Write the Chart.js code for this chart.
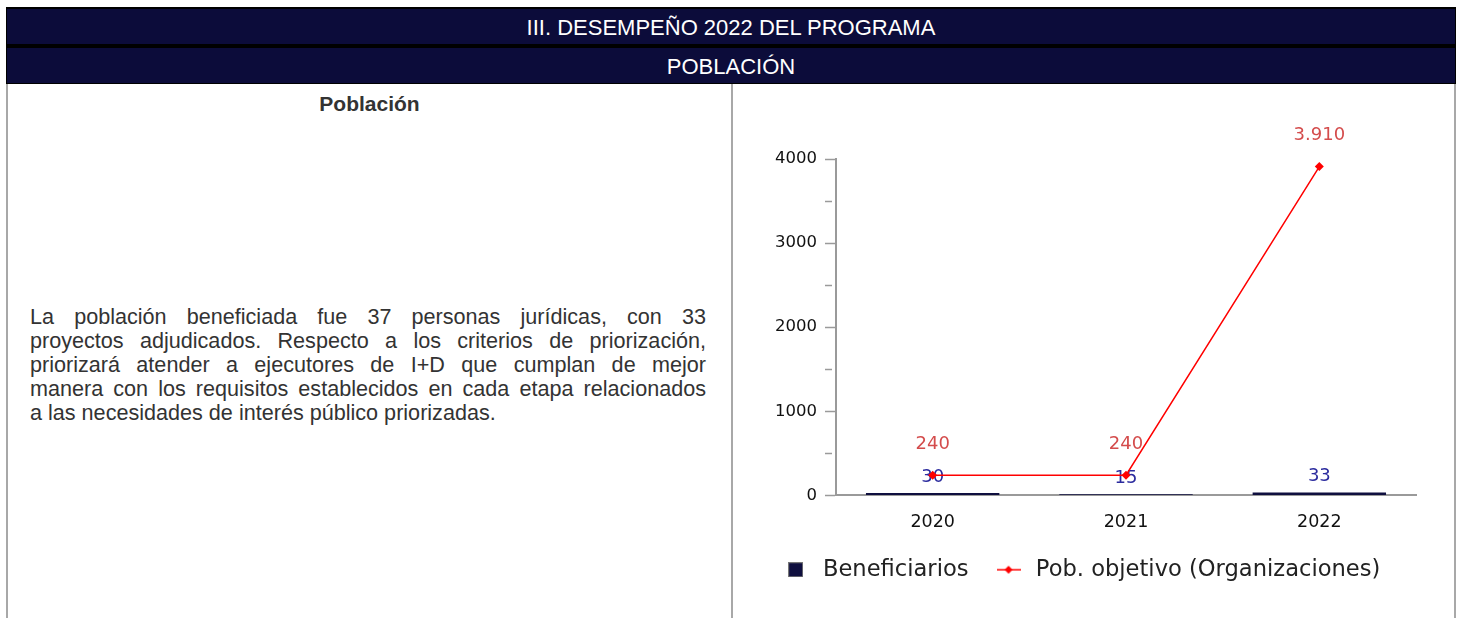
<!DOCTYPE html>
<html>
<head>
<meta charset="utf-8">
<script src="https://cdn.jsdelivr.net/npm/chart.js@4.4.1/dist/chart.umd.min.js"></script>
<style>
  body { margin: 0; background: #fff; width: 1460px; height: 618px; overflow: hidden; position: relative; font-family: "Liberation Sans", Arial, sans-serif; }
  .hdr { position: absolute; left: 6px; width: 1450px; background: #0c0c3a; color: #fff; font-size: 22px; text-align: center; border: 1px solid #000; box-sizing: border-box; }
  #h1 { top: 7px; height: 38px; line-height: 38px; border-top-width: 2px; }
  #h2 { top: 45px; height: 39px; line-height: 37px; border-top-width: 3px; }
  .vline { position: absolute; top: 84px; height: 540px; width: 2px; background: #a8a8a8; }
  #title { position: absolute; left: 8px; width: 723px; top: 92px; text-align: center; font-weight: bold; font-size: 21px; color: #333; }
  #text { position: absolute; left: 30px; width: 676px; top: 305px; font-size: 21.6px; line-height: 24px; color: #333; }
  #text span { display: block; white-space: nowrap; text-align: justify; text-align-last: justify; }
  #text span.last { text-align: left; text-align-last: left; }
  #chartBox { position: absolute; left: 740px; top: 90px; width: 722px; height: 536px; }
</style>
</head>
<body>
<div class="hdr" id="h1">III. DESEMPEÑO 2022 DEL PROGRAMA</div>
<div class="hdr" id="h2">POBLACIÓN</div>
<div class="vline" style="left:6px"></div>
<div class="vline" style="left:731px"></div>
<div class="vline" style="left:1454px"></div>
<div id="title">Población</div>
<div id="text">
<span>La población beneficiada fue 37 personas jurídicas, con 33</span>
<span>proyectos adjudicados. Respecto a los criterios de priorización,</span>
<span>priorizará atender a ejecutores de I+D que cumplan de mejor</span>
<span>manera con los requisitos establecidos en cada etapa relacionados</span>
<span class="last">a las necesidades de interés público priorizadas.</span>
</div>
<div id="chartBox"><canvas id="chartCanvas" width="722" height="536"></canvas></div>
<script>
const years = ["2020", "2021", "2022"];
const beneficiarios = [30, 15, 33];
const pobObjetivo = [240, 240, 3910];
const yTicks = [0, 1000, 2000, 3000, 4000];

const navy = "#0f0f3f";
const red = "#ff0000";

// thousands separator like the original ("3.910")
function fmt(v) {
    return String(v).replace(/\B(?=(\d{3})+(?!\d))/g, ".");
}

// legend markers
function squareIcon() {
    const c = document.createElement("canvas");
    c.width = 15; c.height = 15;
    const g = c.getContext("2d");
    g.fillStyle = "#777";
    g.fillRect(0, 0, 15, 15);
    g.fillStyle = navy;
    g.fillRect(1, 1, 13, 13);
    return c;
}
function lineIcon() {
    const c = document.createElement("canvas");
    c.width = 24; c.height = 12;
    const g = c.getContext("2d");
    g.strokeStyle = red;
    g.lineWidth = 1.5;
    g.beginPath(); g.moveTo(0, 6); g.lineTo(24, 6); g.stroke();
    g.fillStyle = red;
    g.beginPath(); g.moveTo(12, 2); g.lineTo(16, 6); g.lineTo(12, 10); g.lineTo(8, 6); g.closePath(); g.fill();
    return c;
}
const legendIcons = [squareIcon(), lineIcon()];

const valueLabels = {
    id: "valueLabels",
    afterDatasetDraw(chart, args) {
        const ds = chart.data.datasets[args.index];
        const ctx = chart.ctx;
        ctx.save();
        ctx.font = '18px "DejaVu Sans"';
        ctx.fillStyle = ds.labelColor;
        ctx.textAlign = "center";
        ctx.textBaseline = "middle";
        args.meta.data.forEach(function (el, j) {
            ctx.fillText(fmt(ds.data[j]), el.x, el.y - ds.labelOffset);
        });
        ctx.restore();
    }
};

const ctx = document.getElementById("chartCanvas").getContext("2d");

const chart = new Chart(ctx, {
    type: "bar",
    data: {
        labels: years,
        datasets: [{
            label: "Beneficiarios",
            data: beneficiarios,
            backgroundColor: navy,
            categoryPercentage: 1,
            barPercentage: 0.69,
            labelColor: "#2b2b9e",
            labelOffset: 16,
            order: 2
        }, {
            type: "line",
            label: "Pob. objetivo (Organizaciones)",
            data: pobObjetivo,
            borderColor: red,
            borderWidth: 1.5,
            backgroundColor: red,
            pointStyle: "rectRot",
            pointRadius: 4.5,
            pointBorderWidth: 0,
            labelColor: "#d44c4c",
            labelOffset: 31,
            order: 1
        }]
    },
    options: {
        responsive: false,
        animation: false,
        events: [],
        layout: { padding: { left: 4, right: 46, top: 69, bottom: 35 } },
        elements: { line: { tension: 0 } },
        plugins: {
            tooltip: { enabled: false },
            legend: {
                position: "bottom",
                labels: {
                    usePointStyle: true,
                    pointStyleWidth: 32,
                    padding: 24,
                    color: "#222",
                    font: { family: "DejaVu Sans", size: 22.6 },
                    sort: function (a, b) { return a.datasetIndex - b.datasetIndex; },
                    generateLabels: function (chart) {
                        const items = Chart.defaults.plugins.legend.labels.generateLabels(chart);
                        items.forEach(function (it) { it.pointStyle = legendIcons[it.datasetIndex]; });
                        return items;
                    }
                }
            }
        },
        scales: {
            x: {
                offset: true,
                afterFit: function (scale) { scale.height = 39; },
                grid: { display: false, drawTicks: false },
                border: { display: true, color: "#9a9a9a", width: 2 },
                ticks: { color: "#111", padding: 17, font: { family: "DejaVu Sans", size: 17.5 } }
            },
            y: {
                min: 0,
                max: 4000,
                afterFit: function (scale) { scale.width = 92; },
                afterBuildTicks: function (scale) {
                    const t = [];
                    for (let i = 0; i < yTicks.length; i++) {
                        t.push({ value: yTicks[i] });
                        if (i < yTicks.length - 1) t.push({ value: yTicks[i] + 500 });
                    }
                    scale.ticks = t;
                },
                grid: {
                    drawOnChartArea: false,
                    tickLength: 11,
                    color: "#9a9a9a",
                    tickWidth: 1.5,
                    tickBorderDash: function (c) {
                        return yTicks.indexOf(c.tick.value) < 0 ? [7, 100] : [];
                    }
                },
                border: { display: true, color: "#9a9a9a", width: 2 },
                ticks: {
                    color: "#111",
                    padding: 8,
                    font: { family: "DejaVu Sans", size: 16.5 },
                    callback: function (v) { return yTicks.indexOf(v) < 0 ? "" : v; }
                }
            }
        }
    },
    plugins: [valueLabels]
});
</script>
</body>
</html>
